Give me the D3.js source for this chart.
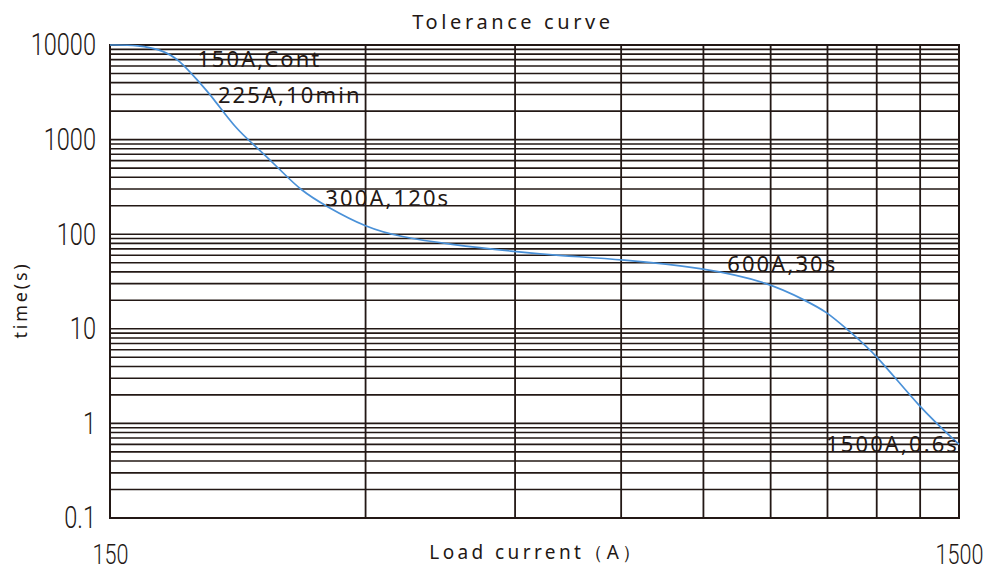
<!DOCTYPE html>
<html>
<head>
<meta charset="utf-8">
<script src="https://cdn.jsdelivr.net/npm/d3@7"></script>
<style>
  html, body { margin: 0; padding: 0; background: #fff; }
  svg { display: block; }
</style>
</head>
<body>
<div id="chart"></div>
<script>
// tolerance curve data (load current in A, time in s)
const currents = [150, 162, 173, 181, 190, 198, 211, 223, 238, 251, 270, 301, 329, 377, 449, 507, 600, 748, 897, 993, 1046, 1107, 1198, 1346, 1500];
const times = [10000, 10000, 8850, 6950, 4280, 2830, 1300, 840, 480, 295, 195, 117, 94, 78, 65.5, 59.5, 54, 44.4, 30.9, 19.5, 15.3, 9.9, 5.4, 1.48, 0.6];

const gridCurrents = [300, 450, 600, 750, 900, 1050, 1200, 1350];
const xTickValues = [150, 1500];
const yTickValues = [0.1, 1, 10, 100, 1000, 10000];
const yTickLabels = ["0.1", "1", "10", "100", "1000", "10000"];

const noteTexts = ["150A,Cont", "225A,10min", "300A,120s", "600A,30s", "1500A,0.6s"];
const noteCurrents = [190, 201, 269, 800, 1046];
const noteTimes = [5860, 2445, 200, 40.3, 0.497];

const W = 991, H = 572;
const margin = { top: 45, right: 32, bottom: 54, left: 110 };

const svg = d3.select("#chart").append("svg")
  .attr("width", W)
  .attr("height", H);

const x = d3.scaleLog()
  .domain([150, 1500])
  .range([margin.left, W - margin.right]);

const y = d3.scaleLog()
  .domain([0.1, 10000])
  .range([H - margin.bottom, margin.top]);

const lineColor = "#231815";
const numFont = "Roboto, 'Noto Sans', sans-serif";
const textFont = "'Noto Sans', 'Open Sans', sans-serif";

// squash glyphs horizontally (the tick numbers use a condensed face)
function condense(squeeze) {
  return sel => sel.each(function () {
    const w = this.getComputedTextLength();
    d3.select(this)
      .attr("textLength", w * squeeze)
      .attr("lengthAdjust", "spacingAndGlyphs");
  });
}

// ---------- grid ----------
const grid = svg.append("g").attr("class", "grid");

grid.selectAll("line.hgrid")
  .data(y.ticks())
  .join("line")
  .attr("class", "hgrid")
  .attr("x1", x.range()[0])
  .attr("x2", x.range()[1])
  .attr("y1", d => y(d))
  .attr("y2", d => y(d))
  .attr("stroke", lineColor)
  .attr("stroke-width", 1.6);

grid.selectAll("line.vgrid")
  .data(gridCurrents)
  .join("line")
  .attr("class", "vgrid")
  .attr("x1", d => x(d))
  .attr("x2", d => x(d))
  .attr("y1", y.range()[0])
  .attr("y2", y.range()[1])
  .attr("stroke", lineColor)
  .attr("stroke-width", 1.8);

// frame
svg.append("rect")
  .attr("x", x.range()[0])
  .attr("y", y.range()[1])
  .attr("width", x.range()[1] - x.range()[0])
  .attr("height", y.range()[0] - y.range()[1])
  .attr("fill", "none")
  .attr("stroke", lineColor)
  .attr("stroke-width", 2);

// ---------- curve ----------
const pts = currents.map((c, i) => [c, times[i]]);

const line = d3.line()
  .x(d => x(d[0]))
  .y(d => y(d[1]))
  .curve(d3.curveBasis);

svg.append("path")
  .datum(pts)
  .attr("d", line)
  .attr("fill", "none")
  .attr("stroke", "#4a91d8")
  .attr("stroke-width", 1.7);

// ---------- notes ----------
svg.append("g")
  .selectAll("text")
  .data(noteTexts)
  .join("text")
  .attr("x", (d, i) => x(noteCurrents[i]))
  .attr("y", (d, i) => y(noteTimes[i]))
  .attr("font-family", textFont)
  .attr("font-size", 22)
  .attr("letter-spacing", 2.1)
  .attr("fill", "#231815")
  .text(d => d);

// ---------- axes labels ----------
const yAxis = d3.axisLeft(y)
  .tickValues(yTickValues)
  .tickSize(0)
  .tickPadding(14)
  .tickFormat((d, i) => yTickLabels[i]);

svg.append("g")
  .attr("transform", `translate(${x.range()[0]},0)`)
  .call(yAxis)
  .call(g => g.select(".domain").remove())
  .call(g => g.selectAll("text")
    .attr("font-family", numFont)
    .attr("font-weight", 300)
    .attr("font-size", 31)
    .attr("fill", "#231815")
    .call(condense(0.76)));

const xAxis = d3.axisBottom(x)
  .tickValues(xTickValues)
  .tickSize(0)
  .tickPadding(27)
  .tickFormat(d3.format("d"));

svg.append("g")
  .attr("transform", `translate(0,${y.range()[0]})`)
  .call(xAxis)
  .call(g => g.select(".domain").remove())
  .call(g => g.selectAll("text")
    .attr("font-family", numFont)
    .attr("font-weight", 300)
    .attr("font-size", 27)
    .attr("fill", "#231815")
    .call(condense(0.8)));

// title
svg.append("text")
  .attr("x", 513)
  .attr("y", 29)
  .attr("text-anchor", "middle")
  .attr("font-family", textFont)
  .attr("font-size", 20)
  .attr("letter-spacing", 3.6)
  .attr("fill", "#231815")
  .text("Tolerance curve");

// x axis title
svg.append("text")
  .attr("x", 537)
  .attr("y", 559)
  .attr("text-anchor", "middle")
  .attr("font-family", textFont)
  .attr("font-size", 19)
  .attr("letter-spacing", 3.4)
  .attr("fill", "#231815")
  .text("Load current（A）");

// y axis title
svg.append("text")
  .attr("transform", "translate(27,300) rotate(-90)")
  .attr("text-anchor", "middle")
  .attr("font-family", textFont)
  .attr("font-size", 18)
  .attr("letter-spacing", 2.8)
  .attr("fill", "#231815")
  .text("time(s)");
</script>
</body>
</html>
